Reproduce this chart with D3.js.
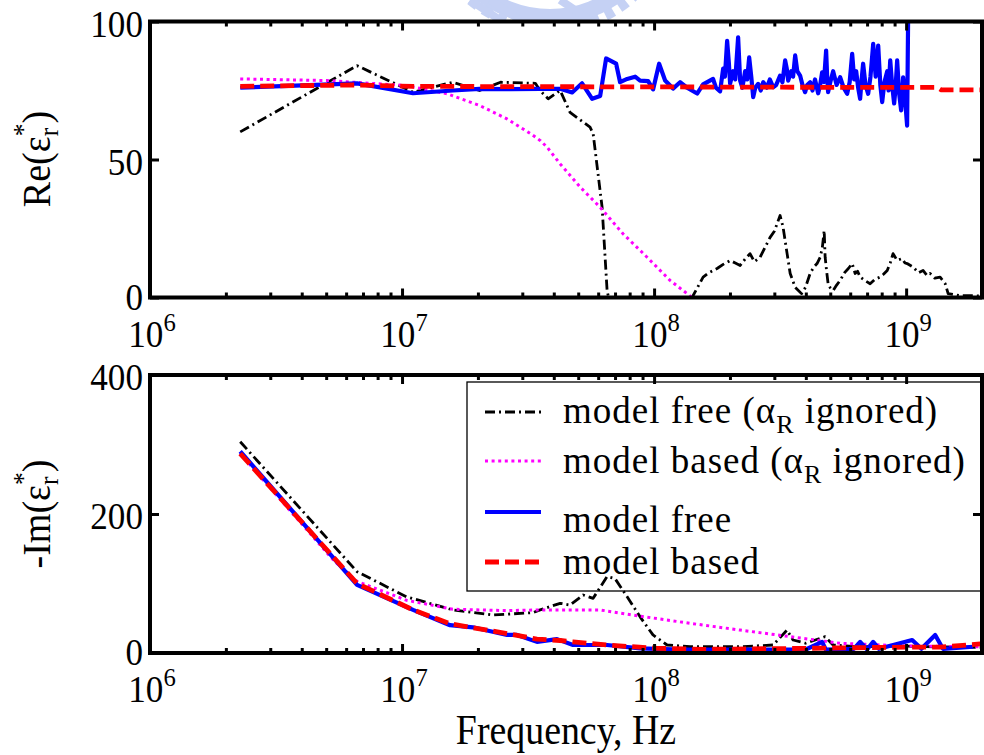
<!DOCTYPE html>
<html><head><meta charset="utf-8">
<script src="https://cdn.jsdelivr.net/npm/d3@7"></script>
<style>body{margin:0;background:#fff}svg{display:block}text{font-family:"Liberation Serif","Times New Roman",serif;fill:#000}</style>
</head><body>
<svg id="c" width="984" height="755"></svg>
<script>
// ---------- DATA (frequency in MHz) ----------
const xTickExponents = [6, 7, 8, 9];
const reTicks = [0, 50, 100];
const imTicks = [0, 200, 400];
const legendLabels = ["model free (α|R| ignored)", "model based (α|R| ignored)", "model free", "model based"];
const xTitle = "Frequency, Hz";

// Re(eps*) - model free (alpha_R ignored)
const reFreeIgnF = [2.28,6.63,11.06,15.9,20.3,24.6,33.8,35.3,38,42.4,46.4,55.7,57.3,62.2,65.1,66,80,100,128,141.5,156.5,165,177.8,188,200.3,210,219.5,230,240.2,250,263.4,275,288.6,300,316.2,324.9,337.1,346.7,362.9,384.5,398.9,416,430,443.2,455.9,465,473,477.2,483,490.3,500,513.3,530,547.2,570,590,610.9,627.8,642,656.9,690,719.7,750,788.3,815,841.4,865,887.5,920,963.6,990,1009,1066,1120,1167,1210,1245,1300,1364,1429,1468,1637,1844,2000];
const reFreeIgnV = [60,84,74.4,78,75,78,77.6,75,72,75,67.1,61.7,59.4,32.7,2.5,0,-1,-1,-0.5,0,7.4,9,10.5,12,13.4,12.5,11.6,14,15.9,13,14.6,18,21.8,24,29.7,25.5,15.9,8.7,3.7,1.4,3.7,8.7,11,12.3,14.6,18,24.3,14.6,10,5,3.5,2.5,4.5,6.2,9,10.5,12.3,8.7,9.5,7.4,6,5,6.5,7.4,8.5,9.8,12.5,15.9,13.5,14.1,12.5,12.3,11,9,9.8,8,8.7,7,7.4,5,1.4,0.7,0.7,0.5];
// Re(eps*) - model based (alpha_R ignored)
const reBasedIgnF = [2.28,5.04,10.4,15.1,20.3,26.1,32.3,35.3,37.6,42.4,50.9,61.1,75.3,93.8,115.7,141.5,170];
const reBasedIgnV = [79.2,78.6,76.8,73.8,69.6,64.7,59.4,56.9,54.5,48.4,40,32.7,23.1,14.6,6.2,0,-6];
// Re(eps*) - model free
const reFreeF = [2.28,6.63,11.06,15.9,20.3,27,35.3,42.4,47.3,51.8,56.8,61.1,64.5,70.7,73.3,78.2,84.1,88,94.7,99.1,104.7,110.6,118.9,126.8,135.2,148.2,156.5,171.4,176,182.8,187.9,191,194.9,198,200.3,205.8,210,215.5,219.5,224,229.8,234,238.4,243,247.3,252,258.9,265,271.1,280,288,296.7,305,316.2,323,331.1,336,340.4,350,356,362.9,370,379.6,388,397.4,405,416,425,435,447.7,456,464.2,472,481.5,486,490.3,500,513.3,530,547.2,565,583.4,597,610.9,622,633.7,645,656.9,666,675.1,690,706.9,722,740.2,757,774.9,790,803.6,820,841.4,852,864.9,880,896.3,908,921.3,938,955.3,965,972.9,990,1009,1019];
const reFreeV = [76,77.6,74,75,75.6,75.5,75.6,75.6,74.3,77.6,72,73,86.6,84.7,78,79.2,80,78.6,78.4,75.4,84.7,78.6,75.7,78,76,73.9,77.2,79.2,76,74.7,82.9,80,93,85,77.5,82,79,94.3,78.6,76,82,79,87,80,72.6,76,77.4,75,78,76,79,76.2,77,80.4,78,85.9,83,78.6,82,80,87.7,82,80.4,77,74.4,77,78,75,79,74,77,81.6,78,89.5,80,74.4,78,82,77,79.8,76,73.8,78,88.3,79,82,76,72,79,84.7,77,73.8,80,91.9,80,91.3,77,70.8,78,82,75,85.9,77,70.3,76,85.9,74,67.8,74,79.8,72,62.3,104];
// Re(eps*) - model based
const reBasedF = [2.28,6.63,11.06,30,100,300,1000,1330,1380,2000];
const reBasedV = [76.5,77,76.5,76.4,76.3,76.2,76.1,76.1,75.2,75.2];

// -Im(eps*) - model free (alpha_R ignored)
const imFreeIgnF = [2.28,6.63,10.4,15.9,22.9,33,35.3,42.4,46.4,52.3,57.3,65.1,70,78.2,88,99,112.6,138.9,219.5,296.7,337,356,399,477,513,639,946,1300,1966];
const imFreeIgnV = [304,117,81,62,54.7,58,62,71.5,69,83.5,78.7,110,107,81,52,26,11.5,9,9,11.5,33,18.7,14,23.5,11.5,9,10,9,8];
// -Im(eps*) - model based (alpha_R ignored)
const imBasedIgnF = [2.28,5.33,6.63,10.4,15.9,26.1,35.3,61,88,139,219.5,346.7,547,1009,1966];
const imBasedIgnV = [287,134,103,76,63,61,62,62,53,42.7,33,23.5,14,10,9];
// -Im(eps*) - model free
const imFreeF = [2.28,6.63,11.06,15.5,19.1,26.1,28.6,34.3,41.2,47.7,65.1,88,118.9,240,400,464,480,620,657,700,740,780,1057,1150,1304,1400,1844];
const imFreeV = [290,98,62,40,37,26,26,16,20,11.5,11.5,6.7,5.3,5,5,16,5,6,16,5,16,6,18.7,6,26,6,9];
// -Im(eps*) - model based
const imBasedF = [2.28,6.63,11.06,15.5,26.1,34.3,42.4,47.7,65.1,102.8,162,399,1009,1364,1966];
const imBasedV = [287,100,62,42,28,20,18,16,11.5,6.7,5.3,6.7,8.5,8.5,13];

// ---------- STYLES ----------
const styles = [
  {color:"#000000", width:2.8, dash:"10,4,2,4"},
  {color:"#ff00ff", width:3, dash:"3,3.6"},
  {color:"#0000ff", width:4.2, dash:null},
  {color:"#ff0000", width:4.8, dash:"14,6"}
];
const FONT = '"Liberation Serif","Times New Roman",serif';

const svg = d3.select("#c");
// faint watermark above the plots
const wm = svg.append("g").attr("opacity",0.45);
wm.append("circle").attr("cx",550).attr("cy",-95).attr("r",112).attr("fill","none").attr("stroke","#7f9be8").attr("stroke-width",16);
wm.append("circle").attr("cx",550).attr("cy",-95).attr("r",124).attr("fill","none").attr("stroke","#7f9be8").attr("stroke-width",10).attr("stroke-dasharray","9,7");
wm.append("path").attr("d","M470,0 L500,20 M490,0 L520,20 M560,0 L590,20").attr("stroke","#7f9be8").attr("stroke-width",8);

const x = d3.scaleLog().domain([1e6, 2e9]).range([150, 982]);

function series(F, V){ return F.map((f,i)=>({f:f*1e6, v:V[i]})); }

const panels = [
  {y: d3.scaleLinear().domain([0,100]).range([297.5,21.5]), ticks: reTicks,
   data:[series(reFreeIgnF,reFreeIgnV),series(reBasedIgnF,reBasedIgnV),series(reFreeF,reFreeV),series(reBasedF,reBasedV)],
   label:"Re", labelY:159},
  {y: d3.scaleLinear().domain([0,400]).range([653,375]), ticks: imTicks,
   data:[series(imFreeIgnF,imFreeIgnV),series(imBasedIgnF,imBasedIgnV),series(imFreeF,imFreeV),series(imBasedF,imBasedV)],
   label:"-Im", labelY:514}
];

function stext(g, px, py, size, sx, anchor, rot){
  return g.append("text")
    .attr("transform", `translate(${px},${py})` + (rot?` rotate(${rot})`:"") + ` scale(${sx},1)`)
    .attr("font-size", size).attr("text-anchor", anchor).style("font-family", FONT);
}

const minorTicks = [];
for (let e=6;e<=9;e++) for (let k=2;k<=9;k++){ const v=k*Math.pow(10,e); if (v<2e9) minorTicks.push(v); }
const majorTicks = xTickExponents.map(e=>Math.pow(10,e));

panels.forEach((p,pi)=>{
  const [y0,y1] = p.y.range();
  const g = svg.append("g");
  g.append("rect").attr("x",150).attr("y",y1).attr("width",832).attr("height",y0-y1).attr("fill","#fff");
  const cid = "clip"+pi;
  svg.append("clipPath").attr("id",cid).append("rect").attr("x",150).attr("y",y1).attr("width",832).attr("height",y0-y1);
  const lg = g.append("g").attr("clip-path",`url(#${cid})`);
  const line = d3.line().x(d=>x(d.f)).y(d=>p.y(d.v));
  p.data.forEach((d,i)=>{
    const s = styles[i];
    lg.append("path").datum(d).attr("d",line).attr("fill","none")
      .attr("stroke",s.color).attr("stroke-width",s.width)
      .attr("stroke-dasharray",s.dash).attr("stroke-linejoin","round");
  });
  const mk = (axis, tr, size, vals) => {
    const a = g.append("g").attr("transform",tr).call(axis.tickValues(vals).tickSize(size).tickFormat(""));
    a.select(".domain").remove();
    a.selectAll(".tick line").attr("stroke","#000").attr("stroke-width",3);
  };
  mk(d3.axisBottom(x), `translate(0,${y0})`, -5, minorTicks);
  mk(d3.axisBottom(x), `translate(0,${y0})`, -9, majorTicks);
  mk(d3.axisTop(x), `translate(0,${y1})`, -5, minorTicks);
  mk(d3.axisTop(x), `translate(0,${y1})`, -9, majorTicks);
  mk(d3.axisLeft(p.y), `translate(150,0)`, -9, p.ticks);
  mk(d3.axisRight(p.y), `translate(982,0)`, -9, p.ticks);
  g.append("rect").attr("x",150).attr("y",y1).attr("width",832).attr("height",y0-y1)
    .attr("fill","none").attr("stroke","#000").attr("stroke-width",4);
  p.ticks.forEach(t=>{
    stext(g, 143, p.y(t)+(t===0?12:15), 37, 0.95, "end").text(t);
  });
  xTickExponents.forEach(e=>{
    const t = stext(g, x(Math.pow(10,e))+2, y0+49, 37, 0.95, "middle");
    t.append("tspan").text("10");
    t.append("tspan").attr("font-size",26).attr("dy",-16).text(e);
  });
  const yt = stext(g, 50, p.labelY, 40, 0.95, "middle", -90);
  yt.append("tspan").text(p.label + "(ε");
  yt.append("tspan").attr("font-size",27).attr("dy",8).text("r");
  yt.append("tspan").attr("font-size",27).attr("dx",-9).attr("dy",-26).text("*");
  yt.append("tspan").attr("dy",18).text(")");
});

stext(svg, 566, 744, 43, 0.88, "middle").text(xTitle);

const leg = svg.append("g");
leg.append("rect").attr("x",467).attr("y",382).attr("width",600).attr("height",209)
  .attr("fill","none").attr("stroke","#000").attr("stroke-width",1.3);
const sampleY = [412, 461, 512, 562];
const textY = [423, 473, 532, 574];
legendLabels.forEach((lab,i)=>{
  const s = styles[i];
  leg.append("line").attr("x1",485).attr("x2",541).attr("y1",sampleY[i]).attr("y2",sampleY[i])
    .attr("stroke",s.color).attr("stroke-width",s.width).attr("stroke-dasharray",s.dash);
  const t = stext(leg, 563, textY[i], 37, 1, "start").attr("letter-spacing",1.0);
  const parts = lab.split("|");
  t.append("tspan").text(parts[0]);
  if (parts.length>1){
    t.append("tspan").attr("font-size",26).attr("dy",10).text(parts[1]);
    t.append("tspan").attr("dy",-10).text(parts[2]);
  }
});
</script>
</body></html>
